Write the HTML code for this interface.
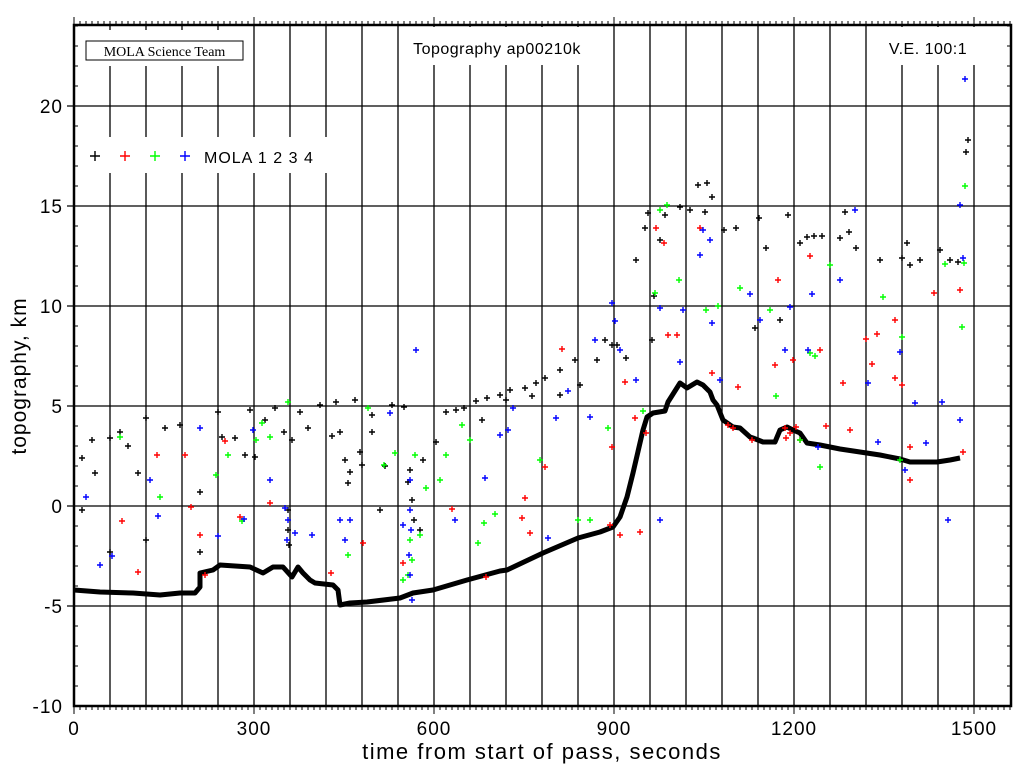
<!DOCTYPE html>
<html><head><meta charset="utf-8"><style>
html,body{margin:0;padding:0;background:#fff;}
svg{display:block;font-family:"Liberation Sans",sans-serif;}
</style></head><body>
<svg id="s" width="1024" height="768" viewBox="0 0 1024 768" xmlns="http://www.w3.org/2000/svg">
<rect width="1024" height="768" fill="#fff"/>
<g id="grid" stroke="#000" stroke-width="1.3" fill="none"></g>
<g id="ticks" stroke="#000" stroke-width="1" fill="none"></g>
<rect x="400" y="27" width="200" height="38" fill="#fff"/>
<rect x="878" y="27" width="100" height="38" fill="#fff"/>
<rect x="80" y="137" width="250" height="36" fill="#fff"/>
<rect x="80" y="30" width="170" height="36" fill="#fff"/>
<polyline id="prof" fill="none" stroke="#000" stroke-width="5" stroke-linejoin="round" points="
74,590 100,592 133,593 160,595 180,593 195,593 200,587 200,573 213,570 220,565 235,566 250,567 263,573 273,567 283,567 292,577 298,567 303,573 310,580 315,583 333,585 338,590 340,605 350,603 367,602 400,598 413,593 433,590 467,580 500,571 507,570 543,553 578,538 600,532 613,527 620,517 627,497 633,473 643,430 647,417 653,413 665,411 668,402 680,383 687,388 697,382 703,385 710,392 713,400 717,405 723,420 733,427 740,428 750,437 753,438 763,442 775,442 780,430 787,427 793,430 800,433 807,443 820,445 840,449 860,452 880,455 900,459 910,462 937,462 950,460 960,458"/>
<g id="pts" fill="none" stroke-width="1.4"></g>
<rect x="74" y="25" width="937" height="681" fill="none" stroke="#000" stroke-width="2.5"/>
<rect x="86" y="41" width="157" height="19" fill="#fff" stroke="#000" stroke-width="1"/>
<text x="164.5" y="56" text-anchor="middle" font-family="Liberation Serif,serif" font-size="14">MOLA Science Team</text>
<text x="497" y="54" text-anchor="middle" font-size="16" letter-spacing="0.5">Topography ap00210k</text>
<text x="928" y="54" text-anchor="middle" font-size="16" letter-spacing="0.5">V.E. 100:1</text>
<text x="204" y="163" font-size="16" letter-spacing="1">MOLA 1 2 3 4</text>
<g font-size="19" text-anchor="end" letter-spacing="1">
<text x="63" y="113">20</text><text x="63" y="213">15</text><text x="63" y="313">10</text>
<text x="63" y="413">5</text><text x="63" y="513">0</text><text x="63" y="613">-5</text><text x="63" y="713">-10</text>
</g>
<g font-size="19" text-anchor="middle" letter-spacing="1">
<text x="74" y="735">0</text><text x="254" y="735">300</text><text x="434" y="735">600</text>
<text x="614" y="735">900</text><text x="794" y="735">1200</text><text x="974" y="735">1500</text>
</g>
<text x="542" y="759" text-anchor="middle" font-size="22" letter-spacing="1.5">time from start of pass, seconds</text>
<text transform="translate(26,376) rotate(-90)" text-anchor="middle" font-size="21" letter-spacing="1">topography, km</text>
</svg>
<script>
var NS="http://www.w3.org/2000/svg";
function el(p,t,a){var e=document.createElementNS(NS,t);for(var k in a)e.setAttribute(k,a[k]);document.getElementById(p).appendChild(e);return e;}
var d="";
for(var t=60;t<=1500;t+=60){var x=74+t*0.6;d+="M"+x+",25V706";}
for(var k=-5;k<=20;k+=5){var y=506-k*20;d+="M67,"+y+"H1011";}
el("grid","path",{d:d});
d="";
for(var t=0;t<=1560;t+=10){var x=74+t*0.6;var L=(t%300==0)?8:4;d+="M"+x+",706v"+L+"M"+x+",25v-"+L;}
for(var k=-10;k<=24;k++){var y=506-k*20;d+="M74,"+y+"h4M1011,"+y+"h-4";}
el("ticks","path",{d:d});
var P={
"#000":[[95,156],[82,458],[92,440],[82,510],[95,473],[110,438],[110,552],[120,432],[128,446],[138,473],[146,418],[146,540],[165,428],[180,425],[200,492],[200,552],[218,412],[222,437],[235,438],[245,455],[250,410],[255,457],[265,420],[275,408],[284,432],[292,440],[300,412],[308,428],[320,405],[332,436],[336,402],[350,472],[355,400],[362,465],[372,415],[380,510],[392,405],[404,407],[420,530],[408,482],[423,460],[340,432],[345,460],[348,483],[360,452],[372,432],[385,466],[436,442],[446,412],[456,410],[464,408],[476,401],[482,420],[487,398],[500,395],[506,400],[510,390],[525,388],[532,396],[536,383],[545,378],[560,370],[560,395],[575,360],[580,385],[597,360],[605,340],[612,345],[617,345],[626,358],[636,260],[645,228],[648,213],[652,340],[654,296],[660,240],[665,215],[680,207],[690,210],[698,185],[705,212],[707,183],[712,197],[724,230],[736,228],[755,328],[759,218],[766,248],[780,320],[788,215],[800,243],[807,237],[814,236],[822,236],[840,238],[849,232],[856,248],[845,212],[880,260],[902,258],[907,243],[910,265],[920,260],[940,250],[950,260],[958,262],[966,152],[968,140],[288,510],[288,530],[289,545],[410,470],[412,500],[414,520]],
"#f00":[[125,156],[122,521],[138,572],[157,455],[185,455],[191,507],[200,535],[205,575],[225,441],[240,517],[270,503],[331,573],[363,543],[403,563],[452,509],[486,577],[525,498],[522,518],[530,533],[545,467],[562,349],[610,525],[620,535],[625,382],[612,447],[635,418],[640,532],[646,433],[656,228],[664,243],[668,335],[677,335],[700,228],[712,373],[738,387],[752,440],[775,365],[778,280],[793,360],[810,256],[820,350],[826,426],[843,383],[850,430],[866,339],[877,334],[872,364],[895,378],[902,385],[910,480],[910,447],[960,290],[963,452],[934,293],[895,320],[728,425],[733,428],[785,428],[790,433],[796,427],[800,440],[786,438]],
"#0f0":[[155,156],[120,437],[160,497],[216,475],[228,455],[242,521],[256,440],[262,423],[270,437],[288,402],[348,555],[368,408],[384,465],[395,453],[403,580],[412,560],[415,455],[420,535],[426,488],[440,480],[446,455],[462,425],[484,523],[478,543],[470,440],[495,514],[540,460],[578,520],[590,520],[608,428],[643,411],[655,293],[660,210],[667,205],[679,280],[706,310],[718,306],[740,288],[770,310],[776,396],[800,440],[810,353],[820,467],[815,356],[830,265],[900,460],[945,264],[964,263],[962,327],[965,186],[883,297],[902,337],[410,540],[408,575]],
"#00f":[[185,156],[86,497],[100,565],[112,556],[150,480],[158,516],[200,428],[218,536],[244,519],[253,430],[270,480],[285,508],[295,533],[312,535],[340,520],[345,540],[350,520],[390,413],[403,525],[410,575],[416,350],[455,520],[485,478],[500,435],[508,430],[513,408],[548,538],[556,418],[568,391],[590,417],[595,340],[612,303],[615,321],[620,350],[636,380],[660,308],[660,520],[680,362],[683,310],[703,230],[700,255],[712,323],[710,240],[720,380],[750,294],[760,320],[785,350],[790,307],[812,294],[808,350],[818,447],[840,280],[855,210],[868,383],[878,442],[900,352],[905,470],[915,403],[926,443],[942,402],[948,520],[960,205],[960,420],[963,258],[965,79],[410,480],[410,510],[411,530],[409,555],[412,600],[288,520],[287,540]]
};
for(var c in P){var s="";P[c].forEach(function(p){var a=(p[0]<240&&p[1]==156)?5:3;s+="M"+(p[0]-a)+","+p[1]+"h"+(2*a)+"M"+p[0]+","+(p[1]-a)+"v"+(2*a);});
el("pts","path",{d:s,stroke:c});}
</script>
</body></html>
